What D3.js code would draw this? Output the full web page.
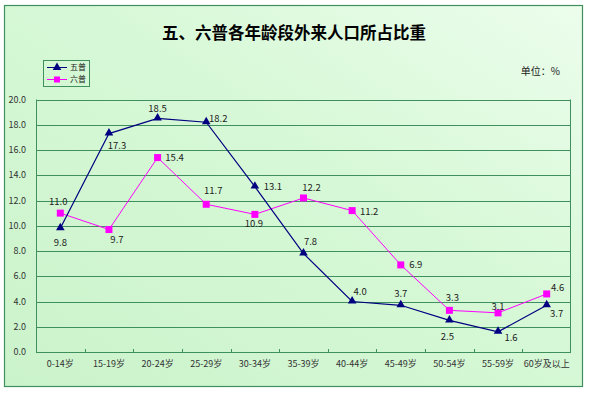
<!DOCTYPE html>
<html>
<head>
<meta charset="utf-8">
<script src="https://cdn.jsdelivr.net/npm/d3@7"></script>
<style>
  body { margin: 0; background: #fff; }
  text { font-family: "Noto Sans CJK SC", "DejaVu Sans", sans-serif; }
</style>
</head>
<body>
<div id="chart"></div>
<script>
// categories and values
const categories = ["0-14岁", "15-19岁", "20-24岁", "25-29岁", "30-34岁", "35-39岁",
    "40-44岁", "45-49岁", "50-54岁", "55-59岁", "60岁及以上"];
const wupu = [9.8, 17.3, 18.5, 18.2, 13.1, 7.8, 4.0, 3.7, 2.5, 1.6, 3.7];
const liupu = [11.0, 9.7, 15.4, 11.7, 10.9, 12.2, 11.2, 6.9, 3.3, 3.1, 4.6];
const yTicks = [0, 2, 4, 6, 8, 10, 12, 14, 16, 18, 20];
const seriesNames = ["五普", "六普"];

// label offsets (dx, dy) from each point, so labels sit like the original
const wupuLabelOffset = [[0, 14], [8, 12], [0, -10], [12, -4], [18, 0], [7, -12],
    [8, -10], [0, -12], [-2, 16], [13, 6], [10, 8]];
const liupuLabelOffset = [[-2, -11], [8, 10], [17, 0], [7, -14], [-1, 9], [8, -10],
    [17, 1], [15, 0], [3, -13], [0, -6], [11, -6]];

const W = 589, H = 393;
const plot = {left: 36, right: 571, top: 99.5, bottom: 352};
const gridColor = "#3f8f5f";

const svg = d3.select("#chart").append("svg")
    .attr("width", W)
    .attr("height", H);

// background gradient
const defs = svg.append("defs");
const grad = defs.append("linearGradient")
    .attr("id", "bg")
    .attr("x1", "100%").attr("y1", "0%")
    .attr("x2", "0%").attr("y2", "100%");
grad.append("stop").attr("offset", "0%").attr("stop-color", "#ecfdec");
grad.append("stop").attr("offset", "45%").attr("stop-color", "#d6f8d6");
grad.append("stop").attr("offset", "100%").attr("stop-color", "#cbf3cb");

svg.append("rect")
    .attr("x", 4.5).attr("y", 5.5)
    .attr("width", 578).attr("height", 381)
    .attr("fill", "url(#bg)")
    .attr("stroke", gridColor)
    .attr("stroke-width", 1.2);

const x = d3.scaleBand()
    .domain(categories)
    .range([plot.left, plot.right]);

const y = d3.scaleLinear()
    .domain([0, 20])
    .range([plot.bottom, plot.top]);

const cx = d => x(d) + x.bandwidth() / 2;

// gridlines
svg.append("g")
    .selectAll("line")
    .data(yTicks.filter(t => t > 0))
    .join("line")
    .attr("x1", plot.left).attr("x2", plot.right)
    .attr("y1", d => Math.round(y(d)) + 0.5)
    .attr("y2", d => Math.round(y(d)) + 0.5)
    .attr("stroke", gridColor)
    .attr("stroke-width", 1);

// plot frame: left and right sides, bottom axis
svg.append("line")
    .attr("x1", plot.left + 0.5).attr("x2", plot.left + 0.5)
    .attr("y1", plot.top).attr("y2", plot.bottom)
    .attr("stroke", gridColor);
svg.append("line")
    .attr("x1", plot.right - 0.5).attr("x2", plot.right - 0.5)
    .attr("y1", plot.top).attr("y2", plot.bottom)
    .attr("stroke", gridColor);

// y axis labels
svg.append("g")
    .selectAll("text")
    .data(yTicks)
    .join("text")
    .attr("x", 26)
    .attr("y", d => y(d))
    .attr("dy", "0.35em")
    .attr("text-anchor", "end")
    .attr("font-size", 9)
    .attr("fill", "#333")
    .text(d => d3.format(".1f")(d));

// x axis with small ticks between categories
const xAxis = svg.append("g")
    .attr("transform", `translate(0,${plot.bottom})`);
xAxis.append("line")
    .attr("x1", plot.left).attr("x2", plot.right)
    .attr("y1", 0.5).attr("y2", 0.5)
    .attr("stroke", gridColor);
xAxis.selectAll("line.tick")
    .data(categories.slice(1))
    .join("line")
    .attr("class", "tick")
    .attr("x1", d => Math.round(x(d)) + 0.5)
    .attr("x2", d => Math.round(x(d)) + 0.5)
    .attr("y1", 0).attr("y2", -3)
    .attr("stroke", gridColor);
xAxis.selectAll("text")
    .data(categories)
    .join("text")
    .attr("x", d => cx(d))
    .attr("y", 15)
    .attr("text-anchor", "middle")
    .attr("font-size", 9)
    .attr("fill", "#333")
    .text(d => d);

const line = d3.line()
    .x((d, i) => cx(categories[i]))
    .y(d => y(d));

// 六普 series (drawn first so 五普 sits on top)
svg.append("path")
    .datum(liupu)
    .attr("fill", "none")
    .attr("stroke", "#ff00ff")
    .attr("stroke-width", 1)
    .attr("d", line);

svg.append("path")
    .datum(wupu)
    .attr("fill", "none")
    .attr("stroke", "#000080")
    .attr("stroke-width", 1.2)
    .attr("d", line);

const tri = d3.symbol().type(d3.symbolTriangle).size(32);

svg.append("g")
    .selectAll("rect")
    .data(liupu)
    .join("rect")
    .attr("x", (d, i) => cx(categories[i]) - 3.5)
    .attr("y", d => y(d) - 3.5)
    .attr("width", 7).attr("height", 7)
    .attr("fill", "#ff00ff");

svg.append("g")
    .selectAll("path")
    .data(wupu)
    .join("path")
    .attr("d", tri)
    .attr("transform", (d, i) => `translate(${cx(categories[i])},${y(d) - 0.5})`)
    .attr("fill", "#000080");

// data labels
function drawLabels(values, offsets) {
    svg.append("g")
        .selectAll("text")
        .data(values)
        .join("text")
        .attr("x", (d, i) => cx(categories[i]) + offsets[i][0])
        .attr("y", (d, i) => y(d) + offsets[i][1])
        .attr("dy", "0.35em")
        .attr("text-anchor", "middle")
        .attr("font-size", 9.5)
        .attr("fill", "#222")
        .text(d => d3.format(".1f")(d));
}
drawLabels(wupu, wupuLabelOffset);
drawLabels(liupu, liupuLabelOffset);

// title
svg.append("text")
    .attr("x", 294)
    .attr("y", 33)
    .attr("dy", "0.35em")
    .attr("text-anchor", "middle")
    .attr("font-size", 16.5)
    .attr("font-weight", "bold")
    .attr("fill", "#000")
    .text("五、六普各年龄段外来人口所占比重");

// unit
svg.append("text")
    .attr("x", 560)
    .attr("y", 71)
    .attr("dy", "0.35em")
    .attr("text-anchor", "end")
    .attr("font-size", 10)
    .attr("fill", "#222")
    .text("单位：%");

// legend
const legend = svg.append("g");
legend.append("rect")
    .attr("x", 43.5).attr("y", 60.5)
    .attr("width", 46).attr("height", 26)
    .attr("fill", "none")
    .attr("stroke", gridColor);
const legendColors = ["#000080", "#ff00ff"];
seriesNames.forEach((name, i) => {
    const ly = 67.5 + i * 12;
    legend.append("line")
        .attr("x1", 47).attr("x2", 67)
        .attr("y1", ly).attr("y2", ly)
        .attr("stroke", legendColors[i]);
    if (i === 0) {
        legend.append("path")
            .attr("d", tri)
            .attr("transform", `translate(57,${ly})`)
            .attr("fill", legendColors[i]);
    } else {
        legend.append("rect")
            .attr("x", 54).attr("y", ly - 3)
            .attr("width", 6).attr("height", 6)
            .attr("fill", legendColors[i]);
    }
    legend.append("text")
        .attr("x", 70)
        .attr("y", ly)
        .attr("dy", "0.35em")
        .attr("font-size", 8)
        .attr("fill", "#222")
        .text(name);
});
</script>
</body>
</html>
